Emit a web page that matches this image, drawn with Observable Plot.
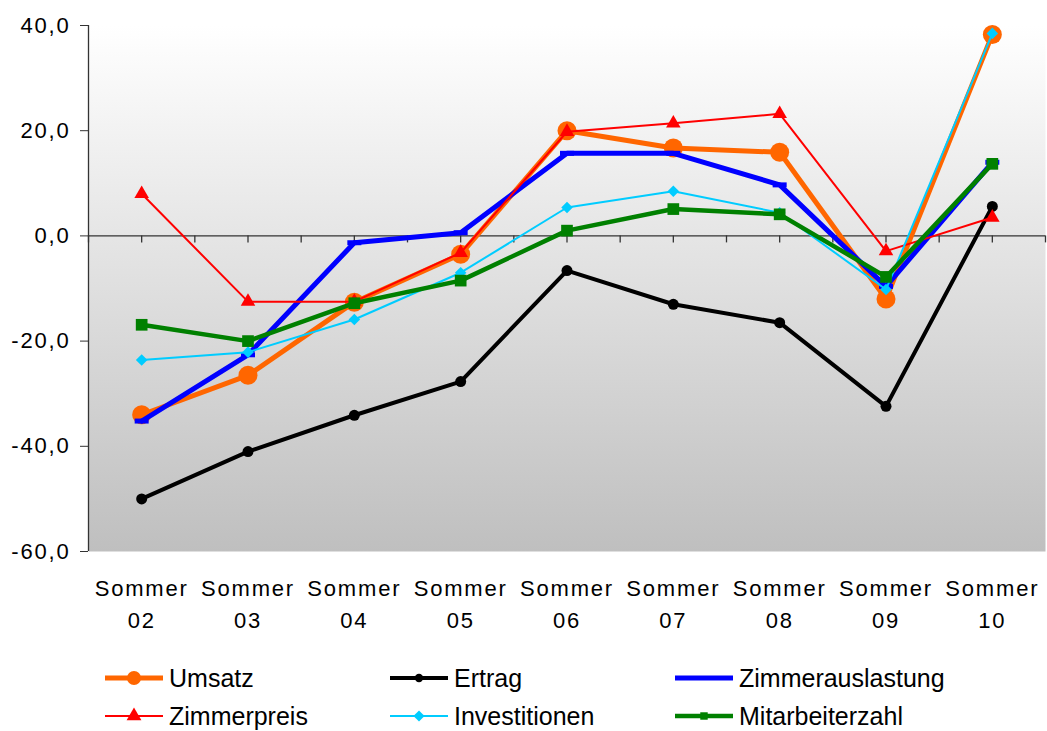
<!DOCTYPE html>
<html><head><meta charset="utf-8">
<script src="https://cdn.jsdelivr.net/npm/d3@7"></script>
<script src="https://cdn.jsdelivr.net/npm/@observablehq/plot@0.6"></script>
<style>
body{margin:0;background:#fff;font-family:"Liberation Sans",Arial,sans-serif;}
#chart{position:relative;width:1047px;height:731px;overflow:hidden}
#chart svg.plotsvg text{letter-spacing:1.8px}
#legend{position:absolute;left:0;top:650px;width:1047px;height:81px;}
.item{position:absolute;display:flex;align-items:center;font-size:25px;height:28px;line-height:1;color:#000;white-space:nowrap}
.item svg{margin-right:6px}
</style></head>
<body>
<div id="chart"><div id="legend"></div></div>
<script>
const years = ["02","03","04","05","06","07","08","09","10"];
const seriesNames = ["Umsatz","Ertrag","Zimmerauslastung","Zimmerpreis","Investitionen","Mitarbeiterzahl"];
const umsatz          = [-34.0, -26.5, -12.6, -3.5, 20.0, 16.7, 15.9, -12.0, 38.3];
const ertrag          = [-50.0, -41.0, -34.1, -27.7, -6.6, -13.0, -16.5, -32.4, 5.6];
const zimmerauslastung= [-35.2, -22.6, -1.3, 0.6, 15.7, 15.7, 9.7, -9.6, 14.0];
const zimmerpreis     = [8.0, -12.5, -12.5, -3.2, 19.8, 21.4, 23.2, -2.9, 3.5];
const investitionen   = [-23.6, -22.1, -15.9, -7.0, 5.4, 8.5, 4.4, -10.2, 38.5];
const mitarbeiterzahl = [-16.9, -20.0, -12.8, -8.5, 1.0, 5.1, 4.1, -7.8, 13.7];
const yTicks = [-60, -40, -20, 0, 20, 40];

const seriesValues = [umsatz, ertrag, zimmerauslastung, zimmerpreis, investitionen, mitarbeiterzahl];
const colors = ["#FF6600", "#000000", "#0000FF", "#FF0000", "#00CCFF", "#008000"];
const widths = [5, 4, 5, 2, 2, 4.5];
const dashSymbol = {draw(ctx, size){ ctx.rect(-7, -2.5, 14, 5); }};
const symbols = ["circle", "circle", dashSymbol, "triangle", "diamond2", "square"];
const radii = [9.5, 5.5, 5, 5.4, 5.2, 6.6];

const idx = years.map((_, i) => i);
const halfTicks = d3.range(-0.5, years.length, 0.5);

const seriesMarks = [];
seriesNames.forEach((name, s) => {
  const data = seriesValues[s].map((v, i) => ({i, value: v, series: name}));
  seriesMarks.push(Plot.line(data, {x: "i", y: "value", stroke: colors[s], strokeWidth: widths[s], strokeLinejoin: "round"}));
  seriesMarks.push(Plot.dot(data, {x: "i", y: "value", fill: colors[s], r: radii[s], symbol: symbols[s]}));
});

const plot = Plot.plot({
  width: 1047, height: 650,
  marginTop: 25, marginBottom: 99, marginLeft: 88, marginRight: 2,
  x: {type: "linear", domain: [-0.5, years.length - 0.5], label: null},
  y: {domain: [-60, 40], label: null},
  style: {fontFamily: "'Liberation Sans', Arial, sans-serif", background: "transparent", color: "#000"},
  marks: [
    Plot.frame({fill: "url(#bgGrad)", stroke: null}),
    Plot.ruleY([0], {stroke: "#333", strokeWidth: 1.3}),
    Plot.ruleX(halfTicks, {y1: 0, y2: 0, insetBottom: -7, stroke: "#333", strokeWidth: 1.3}),
    Plot.ruleX([-0.5], {stroke: "#333", strokeWidth: 1.3}),
    Plot.axisY({ticks: yTicks, tickSize: 8, tickPadding: 10, fontSize: 22, stroke: "#333",
      tickFormat: d => d.toFixed(1).replace(".", ",")}),
    Plot.axisX({ticks: idx, tickSize: 0, tickPadding: 22, fontSize: 22, lineHeight: 1.45,
      tickFormat: i => "Sommer\n" + years[i]}),
    ...seriesMarks
  ]
});
plot.classList.add("plotsvg");
const ns = "http://www.w3.org/2000/svg";
const defs = document.createElementNS(ns, "defs");
defs.innerHTML = '<linearGradient id="bgGrad" x1="0" y1="0" x2="0" y2="1"><stop offset="0" stop-color="#ffffff"/><stop offset="1" stop-color="#bfbfbf"/></linearGradient>';
plot.insertBefore(defs, plot.firstChild);
document.getElementById("chart").insertBefore(plot, document.getElementById("legend"));

// legend
const legend = d3.select("#legend");
const legendSizes = [7, 4.2, 0, 5.5, 5, 4.2];
seriesNames.forEach((name, s) => {
  const col = s % 3, row = Math.floor(s / 3);
  const item = legend.append("div").attr("class", "item")
    .style("left", (105 + col * 285) + "px")
    .style("top", (14 + row * 38) + "px");
  const sv = item.append("svg").attr("width", 58).attr("height", 24);
  sv.append("line").attr("x1", 0).attr("x2", 58).attr("y1", 12).attr("y2", 12)
    .attr("stroke", colors[s]).attr("stroke-width", widths[s]);
  const g = sv.append("g").attr("transform", "translate(29,12)");
  if (s === 2) {
    g.append("rect").attr("x", -7).attr("y", -2).attr("width", 14).attr("height", 4).attr("fill", colors[s]);
  } else {
    const type = [d3.symbolCircle, d3.symbolCircle, null, d3.symbolTriangle, d3.symbolDiamond2, d3.symbolSquare][s];
    const r = legendSizes[s];
    g.append("path").attr("d", d3.symbol(type, Math.PI * r * r)()).attr("fill", colors[s]);
  }
  item.append("span").text(name);
});
</script>
</body></html>
